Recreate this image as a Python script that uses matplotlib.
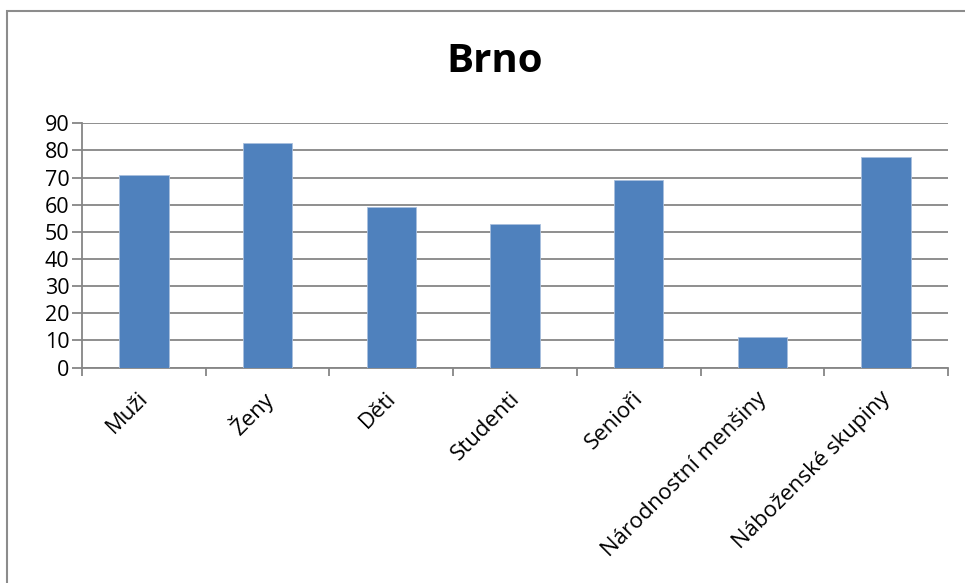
import matplotlib

matplotlib.use('Agg')
import matplotlib.pyplot as plt
from matplotlib.patches import Rectangle
import numpy as np

kategorie = ["Muži", "Ženy", "Děti", "Studenti", "Senioři",
             "Národnostní menšiny", "Náboženské skupiny"]
hodnoty = [71, 82.6, 59, 53, 69, 11.4, 77.4]
y_ticks = [0, 10, 20, 30, 40, 50, 60, 70, 80, 90]

plt.rcParams['font.family'] = ['Open Sans', 'DejaVu Sans']

W, H = 965, 583
fig = plt.figure(figsize=(W / 100, H / 100), dpi=100)
ax = fig.add_axes([82 / W, 1 - 367.5 / H, (948 - 82) / W, (367.5 - 123.3) / H])

# ramecek kolem grafu
fig.patches.append(Rectangle((7 / W, -0.1), 1.2, 1 - 11 / H + 0.1, transform=fig.transFigure,
                             fill=False, edgecolor='#8c8c8c', linewidth=1.5))

x = np.arange(len(kategorie))
ax.bar(x, hodnoty, width=0.4, color='#4F81BD', edgecolor='#a9c0de', linewidth=0.6, zorder=3)

seda = '#868686'
ax.set_xlim(-0.5, len(kategorie) - 0.5)
ax.set_ylim(0, 90)
ax.set_yticks(y_ticks)
ax.yaxis.grid(True, color=seda, linewidth=1.3, zorder=0)
ax.tick_params(axis='y', length=7, width=1.3, color=seda, labelsize=15.5, pad=2)
ax.set_xticks(np.arange(len(kategorie) + 1) - 0.5)
ax.set_xticklabels([])
ax.tick_params(axis='x', length=6, width=1.3, color=seda)
for side in ['top', 'right']:
    ax.spines[side].set_visible(False)
for side in ['left', 'bottom']:
    ax.spines[side].set_color(seda)
    ax.spines[side].set_linewidth(1.3)

# popisky kategorii
for i, name in enumerate(kategorie):
    ax.annotate(name, xy=(i, 0), xycoords='data', xytext=(1, -20), textcoords='offset points',
                rotation=45, rotation_mode='anchor', ha='right', va='center', fontsize=16)

fig.text(495 / W, 1 - 62 / H, "Brno", ha='center', va='center', fontsize=29, fontweight='bold')

fig.savefig('out.png', dpi=100)
